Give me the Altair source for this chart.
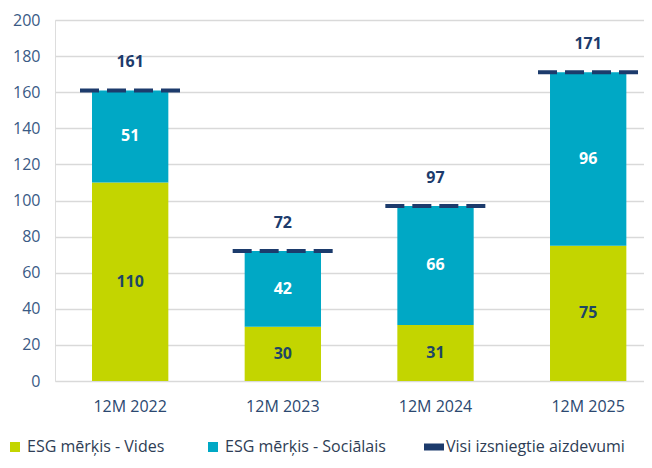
import altair as alt
import pandas as pd

categories = ["12M 2022", "12M 2023", "12M 2024", "12M 2025"]
vides = [110, 30, 31, 75]
socialais = [51, 42, 66, 96]
kopa = [161, 72, 97, 171]
series_names = ["ESG mērķis - Vides", "ESG mērķis - Sociālais", "Visi izsniegtie aizdevumi"]
series_colors = ["#C3D500", "#00A8C5", "#1C3B6C"]

FONT = "Open Sans"

rows = []
for c, v, s in zip(categories, vides, socialais):
    rows.append({"cat": c, "series": series_names[0], "start": 0, "end": v, "mid": v / 2, "value": v})
    rows.append({"cat": c, "series": series_names[1], "start": v, "end": v + s, "mid": v + s / 2, "value": s})
bars_df = pd.DataFrame(rows)
tot_df = pd.DataFrame({"cat": categories, "total": kopa})
leg_df = pd.DataFrame({"series": series_names, "cat": categories[:3], "v": [None, None, None]})

xscale = alt.Scale(domain=categories, paddingInner=0.5, paddingOuter=0.179, align=0.677)
yscale = alt.Scale(domain=[0, 200], nice=False)
cscale = alt.Scale(domain=series_names, range=series_colors)

xaxis = alt.Axis(labelAngle=0, ticks=False, domain=False, labelPadding=17,
                 labelFontSize=16, labelColor="#2B4870", labelFont=FONT)
yaxis = alt.Axis(values=list(range(0, 201, 20)), grid=True, gridColor="#D9D9D9", gridWidth=1.5,
                 domain=False, ticks=False, labelPadding=15, labelFontSize=16, labelOverlap=False,
                 labelColor="#3A5A85", labelFont=FONT)


def X(field="cat:N", **kw):
    return alt.X(field, scale=xscale, sort=categories, title=None, axis=xaxis, **kw)


def Y(field):
    return alt.Y(field, scale=yscale, axis=yaxis, title=None)


legend = alt.Legend(title=None, orient="none", legendX=-50, legendY=417, direction="horizontal",
                    labelFont=FONT, labelFontSize=16, labelColor="#2E3D55", symbolSize=400,
                    symbolOpacity=1, symbolStrokeWidth=0, labelOffset=2, columnPadding=38,
                    labelLimit=400)

bars = alt.Chart(bars_df).mark_bar().encode(
    x=X(),
    y=Y("start:Q"),
    y2="end:Q",
    color=alt.Color("series:N", scale=cscale, legend=legend, sort=series_names),
)

seg_text = alt.Chart(bars_df).mark_text(
    font=FONT, fontSize=16, fontWeight="bold", baseline="middle").encode(
    x=X(),
    y=Y("mid:Q"),
    text=alt.Text("value:Q"),
    fill=alt.condition(alt.datum.series == series_names[0], alt.value("#1E4666"), alt.value("#FFFFFF")),
)

rule = alt.Chart(tot_df).mark_rule(color="#1C3B6C", strokeWidth=4, strokeDash=[19, 8],
                                   xOffset=-12, x2Offset=12).encode(
    x=X(bandPosition=0),
    x2=alt.X2("cat", bandPosition=1),
    y=Y("total:Q"),
)

tot_text = alt.Chart(tot_df).mark_text(font=FONT, fontSize=16, fontWeight="bold", baseline="middle",
                                       dy=-28, color="#1C3B6C").encode(
    x=X(),
    y=Y("total:Q"),
    text=alt.Text("total:Q"),
)

leg = alt.Chart(leg_df).mark_point(filled=True, opacity=1).encode(
    x=X(),
    y=Y("v:Q"),
    color=alt.Color("series:N", scale=cscale, legend=legend, sort=series_names),
    shape=alt.Shape("series:N", sort=series_names,
                    scale=alt.Scale(domain=series_names,
                                    range=["M-0.5,-0.5H0.5V0.5H-0.5Z", "M-0.5,-0.5H0.5V0.5H-0.5Z",
                                           "M-1,-0.35H1V0.35H-1Z"]),
                    legend=legend),
)

chart = alt.layer(bars, seg_text, rule, tot_text, leg).properties(
    width=589, height=361,
    autosize=alt.AutoSizeParams(type="none"),
    padding={"left": 47, "top": 12, "right": 0, "bottom": 79},
).configure_view(stroke=None).configure(background="white")

chart.save("out.html", embed_options={"renderer": "svg", "actions": False})
